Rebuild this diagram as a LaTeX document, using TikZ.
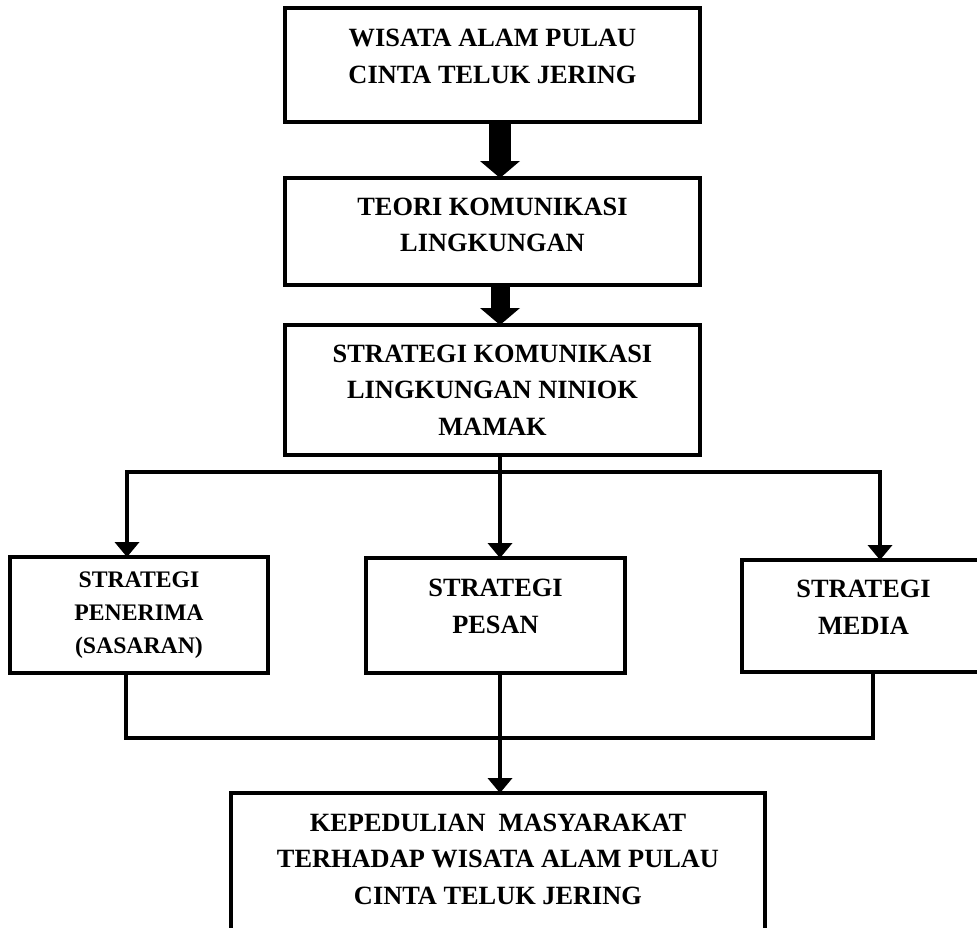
\documentclass[tikz,border=0pt]{standalone}
\usepackage{fontspec}
\setmainfont{Liberation Serif}
\usetikzlibrary{arrows.meta, positioning}

\begin{document}
\begin{tikzpicture}[
    box/.style={rectangle, draw, line width=2.8pt, align=center, font=\bfseries\fontsize{15}{20.8}\selectfont, inner sep=2pt, outer sep=0pt},
    link/.style={draw, line width=2.3pt, line cap=rect},
    arrowlink/.style={link, -{Triangle[length=0.3cm, width=0.5cm, line width=0pt]}},
    bigarrow/.style={draw, line width=0.44cm, -{Triangle[length=0.34cm, width=0.8cm, line width=0pt]}},
    node distance=1.12cm
]

% Frame
\useasboundingbox (0,0) rectangle (19.54,-18.56);
\clip (0,0) rectangle (19.54,-18.56);

% Nodes
\node[box, minimum width=8.3cm, minimum height=2.28cm] (wisata) at (9.85,-1.30) {WISATA ALAM PULAU\\CINTA TELUK JERING\\[-0.39cm]\mbox{}};
\node[box, minimum width=8.3cm, minimum height=2.14cm, below=1.12cm of wisata] (teori) {TEORI KOMUNIKASI\\LINGKUNGAN\\[-0.47cm]\mbox{}};
\node[box, minimum width=8.3cm, minimum height=2.6cm, below=0.8cm of teori] (strategi) {STRATEGI KOMUNIKASI\\LINGKUNGAN NINIOK\\MAMAK};

\node[box, minimum width=5.16cm, minimum height=2.32cm, font=\bfseries\fontsize{13.5}{18.8}\selectfont] (penerima) at (2.78,-12.30) {STRATEGI\\PENERIMA\\(SASARAN)};
\node[box, minimum width=5.18cm, minimum height=2.3cm] (pesan) at (9.91,-12.31) {STRATEGI\\PESAN\\[-0.37cm]\mbox{}};
\node[box, minimum width=4.86cm, minimum height=2.24cm] (media) at (17.27,-12.32) {STRATEGI\\MEDIA\\[-0.39cm]\mbox{}};

\node[box, minimum width=10.68cm, minimum height=3.04cm] (kepedulian) at (9.96,-17.38) {KEPEDULIAN\ \ MASYARAKAT\\TERHADAP WISATA ALAM PULAU\\CINTA TELUK JERING\\[-0.33cm]\mbox{}};

% Bus points
\coordinate (axis) at (10.0,0);
\coordinate (upL) at (2.54,-9.44);
\coordinate (upR) at (17.6,-9.44);
\coordinate (loL) at (2.52,-14.76);
\coordinate (loR) at (17.46,-14.76);

% Paths
\path[bigarrow] (wisata.south -| axis) -- (teori.north -| axis);
\path[bigarrow, line width=0.38cm] (teori.south -| axis) -- (strategi.north -| axis);

\path[link] (upL) -- (upR);
\path[arrowlink] (strategi.south -| axis) -- (pesan.north -| axis);
\path[arrowlink] (upL) -- (upL |- penerima.north);
\path[arrowlink] (upR) -- (upR |- media.north);

\path[link] (penerima.south -| loL) -- (loL) -- (loR) -- (media.south -| loR);
\path[arrowlink] (pesan.south -| axis) -- (kepedulian.north -| axis);

\end{tikzpicture}
\end{document}
